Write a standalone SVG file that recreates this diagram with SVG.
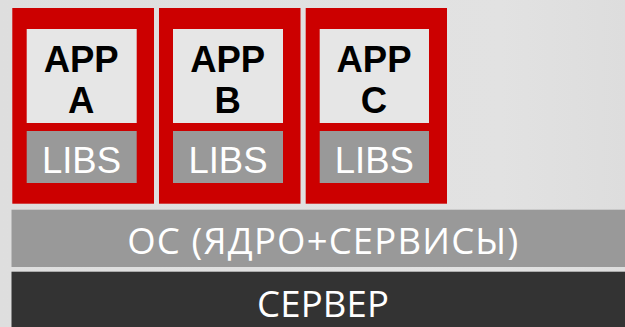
<svg xmlns="http://www.w3.org/2000/svg" width="625" height="327" viewBox="0 0 625 327">
<defs>
<linearGradient id="bg" x1="0" y1="0" x2="1" y2="0">
<stop offset="0" stop-color="#dedede"/>
<stop offset="0.8" stop-color="#e2e2e2"/>
<stop offset="1" stop-color="#dddddd"/>
</linearGradient>
</defs>
<style>
.frame{fill:#cc0000}
.app{fill:#e6e6e6}
.libs{fill:#999999}
.t-app{font-family:"Liberation Sans",Arial,sans-serif;font-weight:bold;font-size:36.5px;fill:#000;text-anchor:middle}
.t-libs{font-family:"Liberation Sans",Arial,sans-serif;font-size:36.5px;fill:#ffffff;text-anchor:middle}
.t-bar{font-family:"Open Sans","Noto Sans",sans-serif;font-size:36.5px;fill:#ffffff;text-anchor:middle}
</style>
<rect x="0" y="0" width="625" height="327" fill="url(#bg)"/>
<g id="app-a">
<rect class="frame" x="12.3" y="8" width="141.7" height="195.7"/>
<rect class="app" x="26.7" y="29" width="110" height="94"/>
<rect class="libs" x="26.7" y="131" width="110" height="52"/>
<text class="t-app" x="81.2" y="71.7">APP</text>
<text class="t-app" x="81.2" y="112.7">A</text>
<text class="t-libs" x="81.5" y="173.3">LIBS</text>
</g>
<g id="app-b">
<rect class="frame" x="159" y="8" width="141.5" height="195.7"/>
<rect class="app" x="173" y="29" width="110" height="94"/>
<rect class="libs" x="173" y="131" width="110" height="52"/>
<text class="t-app" x="227.7" y="71.7">APP</text>
<text class="t-app" x="227.7" y="112.7">B</text>
<text class="t-libs" x="228" y="173.3">LIBS</text>
</g>
<g id="app-c">
<rect class="frame" x="305.7" y="8" width="141.3" height="195.7"/>
<rect class="app" x="319.7" y="29" width="109.3" height="94"/>
<rect class="libs" x="319.7" y="131" width="109.3" height="52"/>
<text class="t-app" x="374" y="71.7">APP</text>
<text class="t-app" x="374" y="112.7">C</text>
<text class="t-libs" x="374.3" y="173.3">LIBS</text>
</g>
<g id="os">
<rect x="11.5" y="209.7" width="613.5" height="57.3" fill="#999999"/>
<text class="t-bar" x="322.7" y="253.5" textLength="391" lengthAdjust="spacing">ОС (ЯДРО+СЕРВИСЫ)</text>
</g>
<g id="server">
<rect x="11.5" y="271.7" width="613.5" height="55.3" fill="#333333"/>
<text class="t-bar" x="323" y="316.5" textLength="132" lengthAdjust="spacing">СЕРВЕР</text>
</g>
<g id="connectors"/>
</svg>
